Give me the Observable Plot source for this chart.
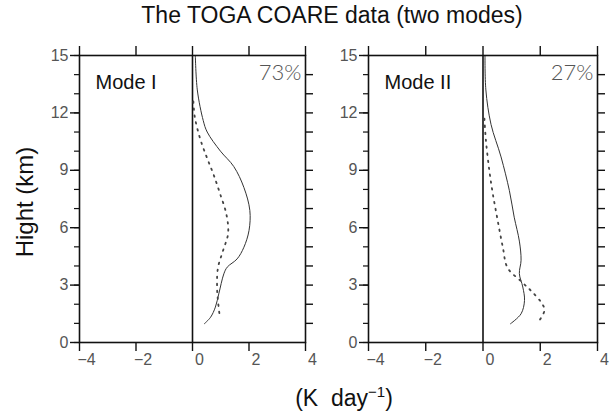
<!DOCTYPE html>
<html><head><meta charset="utf-8">
<script src="https://cdn.jsdelivr.net/npm/d3@7"></script>
<script src="https://cdn.jsdelivr.net/npm/@observablehq/plot@0.6"></script>
<style>
body{margin:0;background:#fff;font-family:"Liberation Sans",Arial,sans-serif;}
#wrap{position:relative;width:610px;height:420px;overflow:hidden;}
#wrap svg{position:absolute;top:0;}
.t{position:absolute;white-space:nowrap;color:#111;}
</style></head><body>
<div id="wrap">
  <div class="t" id="title" style="left:0;width:664px;top:2px;text-align:center;font-size:23px;">The TOGA COARE data (two modes)</div>
  <div class="t" id="ylab" style="left:25px;top:202px;font-size:24px;transform:translate(-50%,-50%) rotate(-90deg);">Hight (km)</div>
  <div class="t" id="xlab" style="left:0;width:688px;top:383px;text-align:center;font-size:23px;">(K&nbsp;&nbsp;day<sup style="font-size:15px">−1</sup>)</div>
</div>
<script>
// ---- data ----
const xTicks = [-4, -2, 0, 2, 4];
const yTicks = [0, 3, 6, 9, 12, 15];
const yMinor = d3.range(0, 16);
const panelNames = ["Mode I", "Mode II"];
const panelShares = ["73%", "27%"];

const mode1SolidZ = [15, 13.2, 11.6, 11.0, 10.0, 9.2, 8.1, 6.9, 5.85, 4.98, 4.37, 3.94, 3.59, 2.54, 1.85, 1.32, 0.98];
const mode1SolidX = [0.1, 0.17, 0.38, 0.52, 0.99, 1.46, 1.82, 2.03, 2.0, 1.82, 1.58, 1.23, 1.11, 0.93, 0.81, 0.64, 0.42];
const mode1DotZ = [12.6, 11.8, 10.7, 9.7, 8.8, 7.8, 6.7, 5.7, 4.8, 3.9, 2.9, 2.2, 1.3];
const mode1DotX = [0.03, 0.08, 0.26, 0.5, 0.74, 0.97, 1.2, 1.26, 1.08, 0.9, 0.87, 0.9, 0.97];

const mode2SolidZ = [15, 13.2, 11.4, 9.7, 7.95, 6.55, 5.3, 4.3, 3.6, 2.9, 2.2, 1.5, 0.98];
const mode2SolidX = [0.07, 0.1, 0.28, 0.63, 0.92, 1.09, 1.27, 1.33, 1.27, 1.39, 1.45, 1.33, 0.96];
const mode2DotZ = [11.7, 10.6, 9.0, 7.8, 6.4, 5.0, 3.9, 3.2, 2.7, 2.1, 1.7, 1.15];
const mode2DotX = [0.05, 0.1, 0.22, 0.34, 0.51, 0.69, 0.86, 1.33, 1.68, 2.03, 2.15, 1.97];

const toRows = (xs, zs) => xs.map((x, i) => ({x, z: zs[i]}));
const panels = [
  {solid: toRows(mode1SolidX, mode1SolidZ), dot: toRows(mode1DotX, mode1DotZ)},
  {solid: toRows(mode2SolidX, mode2SolidZ), dot: toRows(mode2DotX, mode2DotZ)}
];

// ---- layout ----
const boxes = [
  {left: 0, width: 330, ml: 79, mr: 25},
  {left: 290, width: 320, ml: 78, mr: 13}
];
const fmt = d => d < 0 ? "\u2212" + Math.abs(d) : String(d);

panels.forEach((p, i) => {
  const b = boxes[i];
  const chart = Plot.plot({
    width: b.width, height: 420,
    marginLeft: b.ml, marginRight: b.mr, marginTop: 55, marginBottom: 78,
    style: {fontFamily: "Liberation Sans, Arial, sans-serif", fontSize: "16px", color: "#222", background: "transparent", overflow: "visible"},
    x: {domain: [-4, 4]},
    y: {domain: [0, 15]},
    marks: [
      Plot.ruleX([0], {stroke: "#111", strokeWidth: 1.6}),
      Plot.line(p.solid, {x: "x", y: "z", stroke: "#333", strokeWidth: 1, curve: "catmull-rom"}),
      Plot.line(p.dot, {x: "x", y: "z", stroke: "#444", strokeWidth: 1.8, strokeDasharray: "1.5,5.5", curve: "catmull-rom"}),
      Plot.frame({stroke: "#111", strokeWidth: 1.6}),
      Plot.axisY({ticks: yTicks, tickSize: 9, tickPadding: 2, tickFormat: fmt, label: null, stroke: "#111", strokeWidth: 1.4, fill: "#555", fontSize: 16}),
      Plot.axisY({ticks: yMinor, tickSize: 5, text: null, label: null, stroke: "#111", strokeWidth: 1.2}),
      Plot.axisY({anchor: "right", ticks: yMinor.filter(d => d > 0 && d < 15), tickSize: 7, text: null, label: null, stroke: "#111", strokeWidth: 1.4}),
      Plot.axisX({anchor: "top", ticks: xTicks, tickSize: 10, text: null, label: null, stroke: "#111", strokeWidth: 1.4}),
      Plot.axisX({anchor: "bottom", ticks: xTicks, tickSize: 9, text: null, label: null, stroke: "#111", strokeWidth: 1.4}),
      Plot.axisX({anchor: "bottom", ticks: xTicks, tickSize: 0, tickPadding: 11, dx: 7, tickFormat: fmt, label: null, fill: "#555", fontSize: 16}),
      Plot.text([panelNames[i]], {frameAnchor: "top-left", dx: 16, dy: 19, text: d => d, fontSize: 20, fill: "#111"}),
      Plot.text([panelShares[i]], {frameAnchor: "top-right", dx: -4, dy: 9, text: d => d, fontSize: 22, fill: "#555", fontFamily: "Lato, Liberation Sans, sans-serif", fontWeight: 300})
    ]
  });
  chart.style.left = b.left + "px";
  document.getElementById("wrap").appendChild(chart);
});
</script>
</body></html>
